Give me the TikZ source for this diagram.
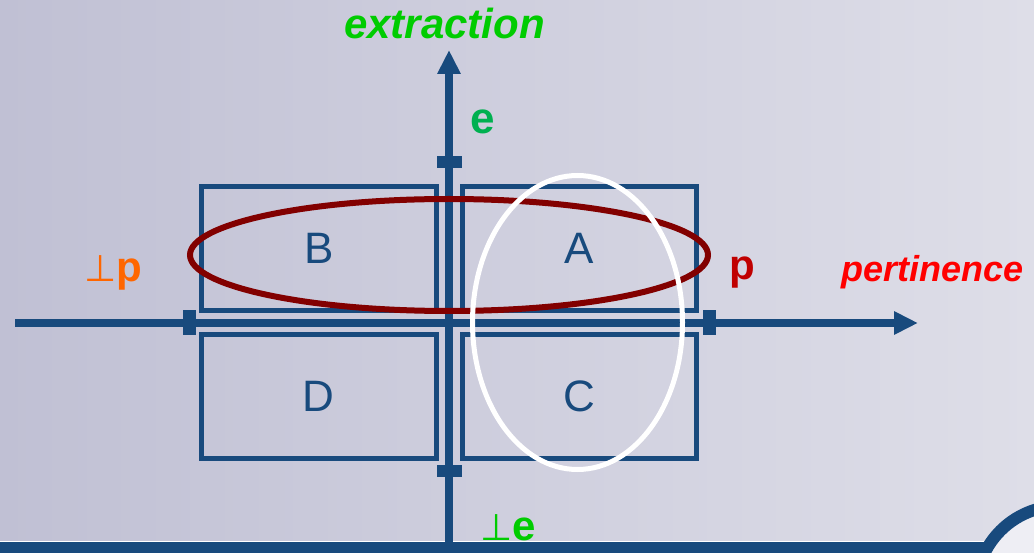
\documentclass[tikz,border=0pt]{standalone}
\usepackage{fontspec}
\setmainfont{Liberation Sans}
\newfontfamily\symf{DejaVu Sans}
\usetikzlibrary{arrows.meta,shapes.geometric}

\definecolor{axisblue}{RGB}{24,74,125}
\definecolor{bgleft}{RGB}{192,192,212}
\definecolor{bgright}{RGB}{222,222,232}
\definecolor{zonered}{RGB}{130,0,0}
\definecolor{pred}{RGB}{192,0,0}
\definecolor{brightgreen}{RGB}{0,204,0}
\definecolor{egreen}{RGB}{0,176,80}
\definecolor{porange}{RGB}{255,102,0}
\definecolor{ringfill}{RGB}{238,238,244}

\begin{document}
\begin{tikzpicture}[
  x=1pt, y=-1pt,
  quad/.style={draw=axisblue, line width=5pt, minimum width=234.5pt, minimum height=124pt,
               inner sep=0pt, text=axisblue, font=\fontsize{44}{48}\selectfont},
  axis/.style={draw=axisblue, line width=7.5pt, -{Triangle[length=24pt,width=22pt]}},
  tickh/.style={fill=axisblue, minimum width=13pt, minimum height=25pt, inner sep=0pt},
  tickv/.style={fill=axisblue, minimum width=25pt, minimum height=12pt, inner sep=0pt},
  zone/.style={ellipse, line width=6pt, inner sep=0pt},
  lbl/.style={anchor=base west, inner sep=0pt, font=\bfseries\fontsize{42}{48}\selectfont}
]
  % background
  \useasboundingbox (0,0) rectangle (1034,553);
  \shade[left color=bgleft, right color=bgright] (0,0) rectangle (1034,553);
  \fill[axisblue] (0,542) rectangle (1034,553);
  \draw[white, line width=1.2pt] (0,541.5) -- (990,541.5);
  \draw[axisblue, line width=12pt, fill=ringfill] (1060,590) circle[radius=84pt];

  % quadrants
  \node[quad] (qb) at (318.75,248.5) {B};
  \node[quad] (qa) at (579.25,248.5) {A};
  \node[quad] (qd) at (318.75,396.75) {D};
  \node[quad] (qc) at (579.25,396.75) {C};

  % axes
  \coordinate (hstart) at (15,323);
  \coordinate (hend) at (918,323);
  \coordinate (vstart) at (449,546);
  \coordinate (vend) at (449,50);
  \draw[axis] (hstart) -- (hend);
  \draw[axis] (vstart) -- (vend);

  \node[tickv] (te) at (449,162) {};
  \node[tickv] (tne) at (449,471) {};
  \node[tickh] (tnp) at (189.5,323) {};
  \node[tickh] (tp) at (709.5,323) {};

  % zones
  \node[zone, draw=zonered, minimum width=518pt, minimum height=112pt] (zp) at (449,255) {};
  \node[zone, draw=white, line width=5pt, minimum width=210pt, minimum height=294pt] (ze) at (577.5,322.5) {};

  % labels
  \node[lbl, text=brightgreen, font=\bfseries\itshape\fontsize{42}{48}\selectfont] (lext) at (344,39) {extraction};
  \node[lbl, text=red, font=\bfseries\itshape\fontsize{36}{40}\selectfont] (lpert) at (841,282) {pertinence};
  \node[lbl, text=egreen, font=\bfseries\fontsize{44}{48}\selectfont] (le) at (470,134) {e};
  \node[lbl, text=pred] (lp) at (729,280) {p};
  \node[lbl, text=porange] (lnp) at (84,282) {{\mdseries\symf\fontsize{37}{40}\selectfont ⊥}p};
  \node[lbl, text=brightgreen] (lne) at (480,540) {{\mdseries\symf\fontsize{37}{40}\selectfont ⊥}e};
\end{tikzpicture}
\end{document}
